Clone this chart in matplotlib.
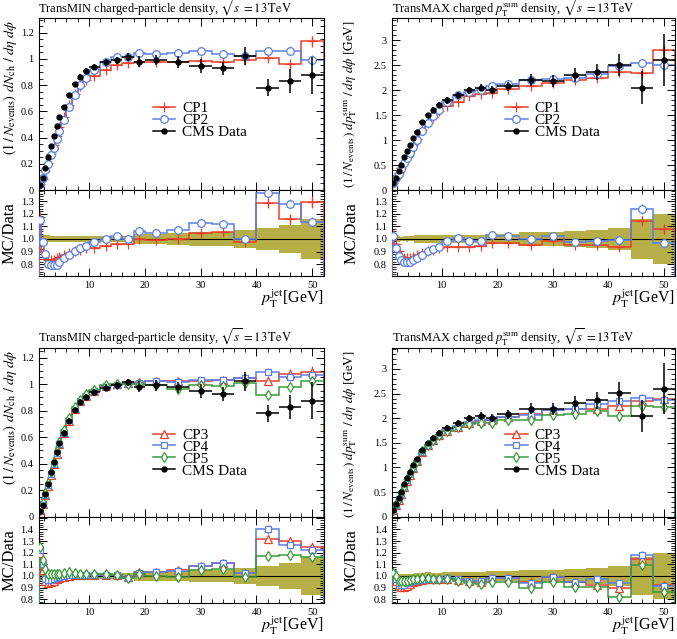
import numpy as np
import matplotlib
matplotlib.use("Agg")
import matplotlib.pyplot as plt
from matplotlib.ticker import MultipleLocator, FormatStrFormatter, FuncFormatter
from matplotlib.lines import Line2D

plt.rcParams['font.family'] = ['Liberation Serif', 'DejaVu Serif']
plt.rcParams['mathtext.fontset'] = 'stix'

# leading track-jet pT bins [GeV]
edges = np.array([1, 1.5, 2, 2.5, 3, 3.5, 4, 4.5, 5, 6, 7, 8, 9, 10,
                  12, 14, 16, 18, 20, 24, 28, 32, 36, 40, 44, 48, 52])

# CMS data, TransMIN charged-particle density
data_min = [0.04, 0.09, 0.17, 0.25, 0.335, 0.41, 0.485, 0.555, 0.635, 0.725, 0.805, 0.865, 0.905,
            0.937, 0.973, 0.99, 1.015, 0.98, 0.99, 0.975, 0.945, 0.927, 1.02, 0.78, 0.83, 0.876]
err_min = [0.002, 0.003, 0.005, 0.007, 0.009, 0.011, 0.012, 0.014, 0.016, 0.018, 0.02, 0.022, 0.023,
           0.024, 0.025, 0.026, 0.027, 0.04, 0.04, 0.044, 0.052, 0.051, 0.07, 0.066, 0.09, 0.14]

# CMS data, TransMAX charged pTsum density
data_max = [0.134, 0.25, 0.375, 0.51, 0.656, 0.79, 0.91, 1.04, 1.17, 1.353, 1.494, 1.607, 1.708,
            1.795, 1.895, 1.996, 2.05, 2.01, 2.076, 2.197, 2.183, 2.31, 2.364, 2.51, 2.05, 2.6]
err_max = [0.003, 0.005, 0.008, 0.01, 0.013, 0.016, 0.018, 0.021, 0.035, 0.04, 0.045, 0.048, 0.051,
           0.063, 0.066, 0.07, 0.072, 0.08, 0.083, 0.12, 0.12, 0.14, 0.17, 0.22, 0.33, 0.52]

# MC predictions, TransMIN
cp1_min = [0.047, 0.081, 0.143, 0.208, 0.278, 0.342, 0.410, 0.477, 0.556, 0.645, 0.729, 0.791, 0.837,
           0.871, 0.918, 0.952, 0.971, 0.980, 0.980, 0.978, 0.988, 0.978, 0.995, 1.006, 0.959, 1.134]
cp2_min = [0.046, 0.088, 0.149, 0.200, 0.265, 0.324, 0.386, 0.452, 0.537, 0.634, 0.725, 0.800, 0.856,
           0.918, 0.976, 1.014, 1.018, 1.044, 1.038, 1.046, 1.062, 1.036, 1.023, 1.063, 1.064, 0.992]
cp3_min = [0.048, 0.095, 0.162, 0.235, 0.317, 0.394, 0.473, 0.547, 0.632, 0.725, 0.809, 0.869, 0.910,
           0.946, 0.983, 1.000, 1.010, 1.014, 1.025, 1.024, 1.025, 1.034, 1.046, 1.026, 1.079, 1.095]
cp4_min = [0.049, 0.099, 0.166, 0.241, 0.323, 0.400, 0.478, 0.552, 0.635, 0.729, 0.809, 0.869, 0.910,
           0.946, 0.983, 0.995, 1.000, 1.005, 1.020, 1.014, 1.030, 1.033, 1.047, 1.092, 1.052, 1.070]
cp5_min = [0.050, 0.102, 0.180, 0.255, 0.340, 0.416, 0.495, 0.566, 0.651, 0.747, 0.825, 0.882, 0.923,
           0.956, 0.990, 1.001, 0.998, 0.997, 0.990, 0.965, 0.992, 0.983, 1.010, 0.916, 0.979, 1.021]

# MC predictions, TransMAX
cp1_max = [0.138, 0.240, 0.338, 0.439, 0.554, 0.668, 0.774, 0.894, 1.024, 1.204, 1.352, 1.470, 1.580,
           1.678, 1.772, 1.876, 1.927, 1.950, 2.014, 2.083, 2.144, 2.199, 2.250, 2.359, 2.347, 2.808]
cp2_max = [0.137, 0.233, 0.324, 0.423, 0.535, 0.644, 0.746, 0.863, 0.995, 1.184, 1.345, 1.478, 1.597,
           1.759, 1.904, 1.970, 2.009, 2.080, 2.118, 2.197, 2.227, 2.248, 2.317, 2.485, 2.542, 2.509]
cp3_max = [0.137, 0.240, 0.345, 0.462, 0.594, 0.723, 0.846, 0.983, 1.123, 1.312, 1.457, 1.567, 1.665,
           1.750, 1.829, 1.906, 1.948, 1.970, 2.034, 2.087, 2.161, 2.195, 2.189, 2.251, 2.358, 2.392]
cp4_max = [0.137, 0.243, 0.351, 0.469, 0.607, 0.739, 0.860, 0.993, 1.129, 1.312, 1.457, 1.567, 1.665,
           1.759, 1.838, 1.916, 1.958, 1.970, 2.034, 2.059, 2.161, 2.195, 2.293, 2.359, 2.419, 2.366]
cp5_max = [0.138, 0.250, 0.360, 0.487, 0.626, 0.758, 0.878, 1.009, 1.141, 1.326, 1.464, 1.567, 1.657,
           1.741, 1.819, 1.876, 1.907, 1.910, 1.972, 1.971, 2.065, 2.086, 2.149, 2.053, 2.249, 2.236]

# relative MC statistical uncertainty
mc_relerr = [0.03, 0.012, 0.008, 0.006, 0.005, 0.005, 0.005, 0.005, 0.004, 0.004, 0.004, 0.004, 0.005,
             0.005, 0.006, 0.007, 0.008, 0.009, 0.01, 0.012, 0.015, 0.018, 0.02, 0.025, 0.03, 0.035]

centers = 0.5 * (edges[1:] + edges[:-1])
halfw = 0.5 * (edges[1:] - edges[:-1])

RED = '#e8402a'
BLUE = '#5a7fe6'
GREEN = '#3a9a3a'
BAND = '#b6af47'

styles = {
    'CP1': dict(color=RED, marker='+', mfc=RED, ms=7),
    'CP2': dict(color=BLUE, marker='o', mfc='white', ms=5.5),
    'CP3': dict(color=RED, marker='^', mfc='white', ms=5.5),
    'CP4': dict(color=BLUE, marker='s', mfc='white', ms=5),
    'CP5': dict(color=GREEN, marker='d', mfc='white', ms=5.5),
}

W, H = 677, 639
fig = plt.figure(figsize=(W / 100, H / 100), dpi=100)


def px_axes(x0, x1, y0, y1):
    return fig.add_axes([x0 / W, 1 - y1 / H, (x1 - x0) / W, (y1 - y0) / H])


def style_ticks(ax, xmaj, xmin, ymaj, ymin):
    ax.xaxis.set_major_locator(MultipleLocator(xmaj))
    ax.xaxis.set_minor_locator(MultipleLocator(xmin))
    ax.yaxis.set_major_locator(MultipleLocator(ymaj))
    ax.yaxis.set_minor_locator(MultipleLocator(ymin))
    ax.tick_params(which='both', direction='in', top=True, right=True, labelsize=7.5)
    ax.tick_params(which='major', length=5.5, width=0.7)
    ax.tick_params(which='minor', length=3, width=0.6)
    for s in ax.spines.values():
        s.set_linewidth(0.8)


def panel(xl, xr, yt, ymid, yb, title, ylabel, ylab_size, data, err, mcs, ylim, rlim,
          ymaj, ymin, ylab_x, leg_anchor, title_pad):
    ax = px_axes(xl, xr, yt, ymid)
    rx = px_axes(xl, xr, ymid, yb)
    data = np.array(data)
    err = np.array(err)
    rel = np.array(mc_relerr)

    handles = []
    for name, vals in mcs:
        st = styles[name]
        vals = np.array(vals)
        ax.stairs(vals, edges, color=st['color'], lw=1.1)
        ax.errorbar(centers, vals, yerr=vals * rel, fmt=st['marker'], color=st['color'],
                    mfc=st['mfc'], mec=st['color'], ms=st['ms'], mew=0.9, elinewidth=0.9, capsize=0)
        ratio = vals / data
        rx.stairs(ratio, edges, color=st['color'], lw=1.1, zorder=3)
        rx.errorbar(centers, ratio, yerr=ratio * rel, fmt=st['marker'], color=st['color'],
                    mfc=st['mfc'], mec=st['color'], ms=st['ms'], mew=0.9, elinewidth=0.9,
                    capsize=0, zorder=4)
        handles.append(Line2D([], [], color=st['color'], lw=1.1, marker=st['marker'],
                              mfc=st['mfc'], mec=st['color'], ms=st['ms'], mew=0.9))
    ax.errorbar(centers, data, xerr=halfw, yerr=err, fmt='o', color='black', ms=3.5,
                elinewidth=1.1, capsize=0, zorder=5)
    handles.append(Line2D([], [], color='black', lw=1.1, marker='o', ms=3.5))
    labels = [m[0] for m in mcs] + ['CMS Data']
    ax.legend(handles, labels, loc='upper left', bbox_to_anchor=leg_anchor, frameon=False,
              fontsize=11, handlelength=1.5, handletextpad=0.45, labelspacing=-0.12,
              borderpad=0, borderaxespad=0)

    relerr = err / data
    rx.stairs(1 + relerr, edges, baseline=1 - relerr, fill=True, color=BAND, lw=0, zorder=1)
    rx.axhline(1.0, color='black', lw=0.8, zorder=2)

    ax.set_xlim(1, 52)
    rx.set_xlim(1, 52)
    ax.set_ylim(*ylim)
    rx.set_ylim(*rlim)
    style_ticks(ax, 10, 2, ymaj, ymin)
    style_ticks(rx, 10, 2, 0.1, 0.02)
    ax.tick_params(labelbottom=False)
    ax.yaxis.set_major_formatter(FormatStrFormatter('%g'))
    top = rlim[1]
    rx.yaxis.set_major_formatter(FuncFormatter(lambda v, p: '' if v > top - 0.03 else '%.1f' % v))

    ax.set_title(title, loc='left', fontsize=9, pad=title_pad)
    ax.set_ylabel(ylabel, fontsize=ylab_size, loc='top')
    ax.yaxis.set_label_coords(ylab_x, 0.99)
    rx.set_ylabel('MC/Data', fontsize=12)
    rx.yaxis.set_label_coords(-0.075 if xl < 100 else -0.115, 0.5)
    rx.set_xlabel(r'$p_\mathrm{T}^\mathrm{jet}$[GeV]', fontsize=11.5, loc='right', labelpad=-1.5)


t_min = r'TransMIN charged-particle density, $\sqrt{s}\, = 13\,\mathrm{TeV}$'
t_max = r'TransMAX charged $p_\mathrm{T}^\mathrm{sum}$ density, $\sqrt{s}\, = 13\,\mathrm{TeV}$'
y_min = r'$\left(1\,/\,N_\mathrm{events}\right)\ dN_\mathrm{ch}\ /\ d\eta\ d\phi$'
y_max = r'$\left(1\,/\,N_\mathrm{events}\right)\ dp_\mathrm{T}^\mathrm{sum}\ /\ d\eta\ d\phi\ \left[\mathrm{GeV}\right]$'

panel(38.5, 323.5, 18.3, 190, 276, t_min, y_min, 10.3, data_min, err_min,
      [('CP1', cp1_min), ('CP2', cp2_min)], (0, 1.31), (0.705, 1.39), 0.2, 0.05,
      -0.07, (0.40, 0.515), 1)
panel(391.7, 675, 18.3, 190, 276, t_max, y_max, 9.5, data_max, err_max,
      [('CP1', cp1_max), ('CP2', cp2_max)], (0, 3.44), (0.705, 1.39), 0.5, 0.1,
      -0.115, (0.40, 0.515), 1)
panel(38.5, 323.5, 348.3, 516.7, 603.3, t_min, y_min, 10.3, data_min, err_min,
      [('CP3', cp3_min), ('CP4', cp4_min), ('CP5', cp5_min)], (0, 1.27), (0.765, 1.51),
      0.2, 0.05, -0.07, (0.40, 0.525), 5)
panel(391.7, 675, 348.3, 516.7, 603.3, t_max, y_max, 9.5, data_max, err_max,
      [('CP3', cp3_max), ('CP4', cp4_max), ('CP5', cp5_max)], (0, 3.42), (0.765, 1.51),
      0.5, 0.1, -0.115, (0.40, 0.525), 5)

fig.savefig('out.png', dpi=100)
